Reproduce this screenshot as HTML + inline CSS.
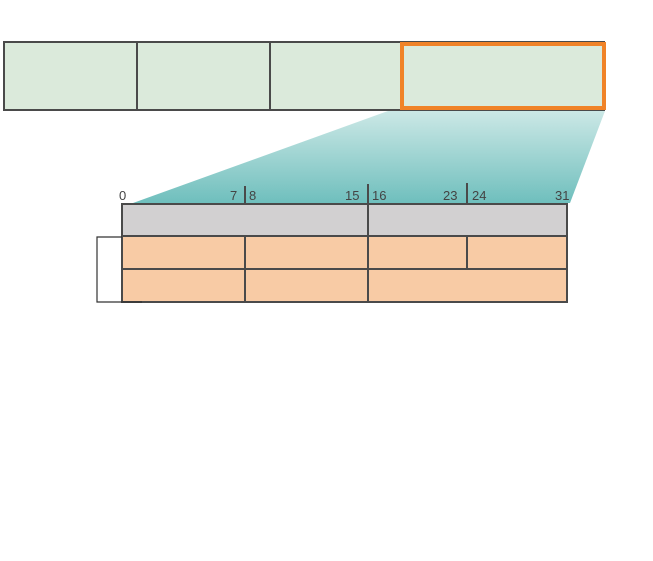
<!DOCTYPE html>
<html><head><style>body{margin:0;background:#fff}</style></head><body>
<svg width="653" height="556" xmlns="http://www.w3.org/2000/svg" font-family="Liberation Sans, sans-serif">
<defs><linearGradient id="g" x1="0" y1="0" x2="0" y2="1"><stop offset="0" stop-color="#cce8e6"/><stop offset="1" stop-color="#6fbfbd"/></linearGradient></defs>
<polygon points="388,111 605,111 570,203 133,203" fill="url(#g)"/>
<rect x="4" y="42" width="600" height="68" fill="#dbeadb" stroke="#4a4a4a" stroke-width="2"/>
<line x1="137" y1="42" x2="137" y2="110" stroke="#4a4a4a" stroke-width="2"/>
<line x1="270" y1="42" x2="270" y2="110" stroke="#4a4a4a" stroke-width="2"/>
<rect x="402" y="44" width="202" height="64" fill="none" stroke="#f08328" stroke-width="4"/>
<rect x="122" y="204" width="445" height="32" fill="#d2d0d1" stroke="#4a4a4a" stroke-width="2"/>
<rect x="122" y="236" width="445" height="66" fill="#f8cba5" stroke="#4a4a4a" stroke-width="2"/>
<line x1="122" y1="269" x2="567" y2="269" stroke="#4a4a4a" stroke-width="2"/>
<line x1="368" y1="184" x2="368" y2="302" stroke="#4a4a4a" stroke-width="2"/>
<line x1="245" y1="186" x2="245" y2="203" stroke="#4a4a4a" stroke-width="2"/>
<line x1="245" y1="236" x2="245" y2="302" stroke="#4a4a4a" stroke-width="2"/>
<line x1="467" y1="183" x2="467" y2="203" stroke="#4a4a4a" stroke-width="2"/>
<line x1="467" y1="236" x2="467" y2="269" stroke="#4a4a4a" stroke-width="2"/>
<polyline points="122,237 97,237 97,302 142,302" fill="none" stroke="#333" stroke-width="1.2"/>
<g font-size="13" fill="#444">
<text x="119" y="200">0</text>
<text x="230" y="200">7</text><text x="249" y="200">8</text>
<text x="345" y="200">15</text><text x="372" y="200">16</text>
<text x="443" y="200">23</text><text x="472" y="200">24</text>
<text x="555" y="200">31</text>
</g>
</svg>
</body></html>
